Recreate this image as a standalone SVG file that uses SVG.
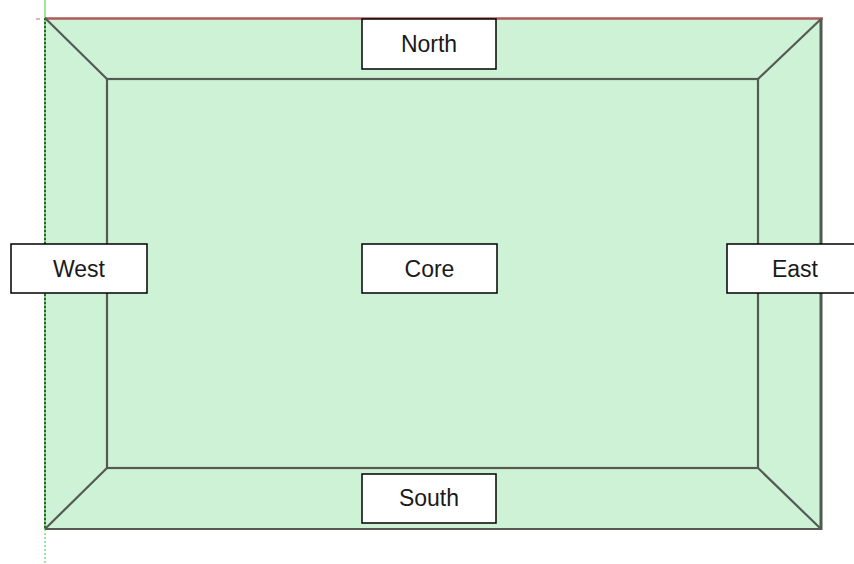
<svg xmlns="http://www.w3.org/2000/svg" width="854" height="564" viewBox="0 0 854 564">
<style>
.edge{stroke:#555a55;stroke-width:2.2;fill:none}
.box rect{fill:#fff;stroke:#000;stroke-width:1.5}
.box text{font-family:"Liberation Sans",Arial,sans-serif;font-size:23px;fill:#1a1a1a;text-anchor:middle}
</style>
<rect width="854" height="564" fill="#fff"/>
<g id="zones">
<rect x="45" y="18" width="776" height="511" fill="#cdf2d5"/>
</g>
<g id="connectors">
<line x1="45" y1="0" x2="45" y2="18" stroke="#7ee07e" stroke-width="1.5"/>
<line x1="45" y1="529" x2="45" y2="564" stroke="#7ee07e" stroke-width="1.5" stroke-dasharray="2 2"/>
<line x1="45" y1="18" x2="45" y2="529" stroke="#6fcf6f" stroke-width="2"/>
<line x1="45" y1="18" x2="45" y2="529" stroke="#2f4f2f" stroke-width="1.8" stroke-dasharray="2 2"/>
<line x1="36" y1="19" x2="40" y2="19" stroke="#c07070" stroke-width="1"/>
<line x1="45" y1="18.5" x2="823" y2="18.5" stroke="#b05a5a" stroke-width="2.5"/>
<line x1="821" y1="19" x2="821" y2="530" stroke="#4f594f" stroke-width="3"/>
<line x1="45" y1="529" x2="822" y2="529" class="edge" stroke-width="2.5"/>
<rect x="107" y="79" width="651" height="389" class="edge"/>
<line x1="45" y1="18" x2="107" y2="79" class="edge"/>
<line x1="821" y1="19" x2="758" y2="79" class="edge"/>
<line x1="45" y1="529" x2="107" y2="468" class="edge"/>
<line x1="821" y1="529" x2="758" y2="468" class="edge"/>
</g>
<g id="north" class="box"><rect x="362" y="19" width="134" height="50"/><text x="429" y="52">North</text></g>
<g id="west" class="box"><rect x="11" y="244" width="136" height="49"/><text x="79" y="277">West</text></g>
<g id="core" class="box"><rect x="362" y="244" width="135" height="49"/><text x="429.5" y="277">Core</text></g>
<g id="east" class="box"><rect x="727" y="244" width="135" height="49"/><text x="795" y="277">East</text></g>
<g id="south" class="box"><rect x="362" y="474" width="134" height="49"/><text x="429" y="506">South</text></g>
</svg>
